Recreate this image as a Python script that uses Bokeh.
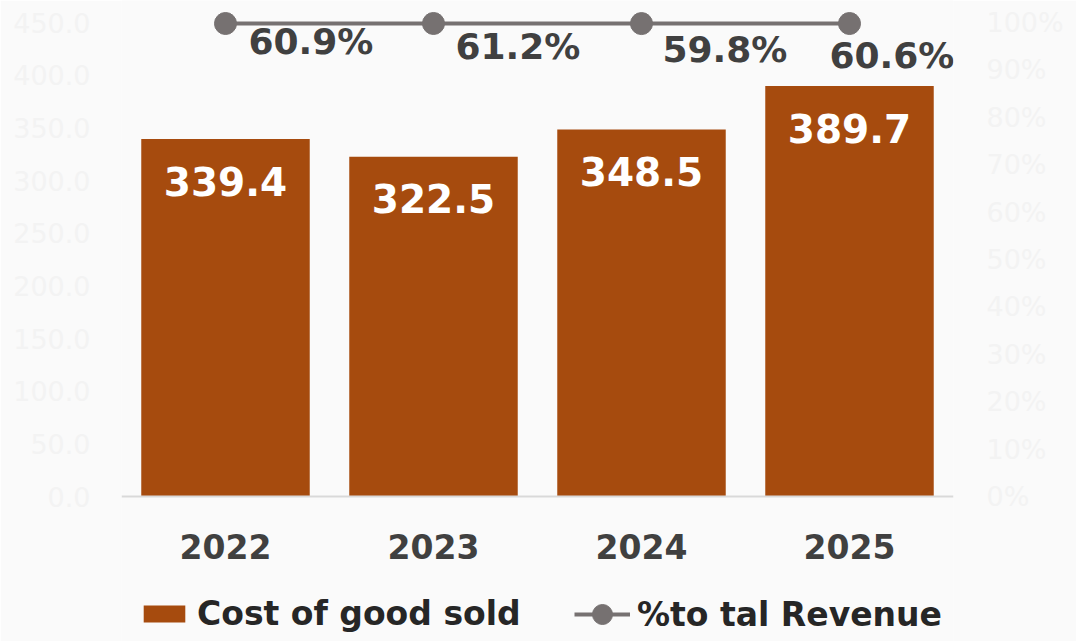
from bokeh.plotting import figure
from bokeh.models import (ColumnDataSource, Range1d, LinearAxis, FixedTicker,
                          NumeralTickFormatter, LabelSet, Legend, LegendItem, FactorRange)
from bokeh.core.properties import value
from bokeh.embed import file_html
from bokeh.resources import INLINE

# ---- data ----
years = ["2022", "2023", "2024", "2025"]
cogs = [339.4, 322.5, 348.5, 389.7]
pct_revenue = [60.9, 61.2, 59.8, 60.6]
cogs_labels = [f"{v:.1f}" for v in cogs]
pct_labels = [f"{v:.1f}%" for v in pct_revenue]
left_ticks = [0, 50, 100, 150, 200, 250, 300, 350, 400, 450]
right_ticks = [0.0, 0.1, 0.2, 0.3, 0.4, 0.5, 0.6, 0.7, 0.8, 0.9, 1.0]

# label placement (screen px), styling only
pct_dx = [23, 22, 21, -20]
pct_dy = [-18, -23, -26, -32]

BAR = "#A64B0E"
LINE = "#767171"
DARK = "#404040"
BG = "#FAFAFA"
FAINT = "#F3F3F3"
FONT = "DejaVu Sans"

src = ColumnDataSource(dict(year=years, cogs=cogs, pct=pct_revenue,
                            cogs_label=cogs_labels, pct_label=pct_labels,
                            dx=pct_dx, dy=pct_dy))

p = figure(width=1076, height=641, x_range=FactorRange(factors=years),
           y_range=Range1d(-137.66, 470.9), output_backend="svg", toolbar_location=None,
           min_border_left=121, min_border_right=123, min_border_top=0, min_border_bottom=0,
           background_fill_color=BG, border_fill_color=BG, outline_line_color=None)

p.extra_y_ranges = {"pct": Range1d(-0.3059, 1.0464), "line": Range1d(-10000, 435.4)}

p.xgrid.visible = False
p.ygrid.visible = False

# left axis
ya = p.yaxis[0]
ya.ticker = FixedTicker(ticks=left_ticks)
ya.formatter = NumeralTickFormatter(format="0.0")
ya.major_label_text_font = FONT
ya.major_label_text_font_size = "27px"
ya.major_label_text_color = FAINT
ya.axis_line_color = None
ya.major_tick_line_color = None
ya.minor_tick_line_color = None
ya.major_tick_out = 0
ya.major_tick_in = 0
ya.major_label_standoff = 31

# right axis
ra = LinearAxis(y_range_name="pct", ticker=FixedTicker(ticks=right_ticks),
                formatter=NumeralTickFormatter(format="0%"))
ra.major_label_text_font = FONT
ra.major_label_text_font_size = "27px"
ra.major_label_text_color = FAINT
ra.axis_line_color = None
ra.major_tick_line_color = None
ra.minor_tick_line_color = None
ra.major_tick_out = 0
ra.major_tick_in = 0
ra.major_label_standoff = 33
p.add_layout(ra, "right")

# x axis, pinned to value 0
xa = p.xaxis[0]
xa.fixed_location = 0
xa.major_label_text_font = FONT
xa.major_label_text_font_size = "33px"
xa.major_label_text_font_style = "bold"
xa.major_label_text_color = DARK
xa.axis_line_color = "#D9D9D9"
xa.axis_line_width = 2
xa.major_tick_line_color = None
xa.minor_tick_line_color = None
xa.major_tick_out = 0
xa.major_tick_in = 0
xa.major_label_standoff = 37

bars = p.vbar(x="year", top="cogs", bottom=0, width=0.81, source=src,
              fill_color=BAR, line_color=None)

ln = p.line(x="year", y="pct", source=src, y_range_name="line",
            line_color=LINE, line_width=4)
pts = p.scatter(x="year", y="pct", source=src, y_range_name="line",
                size=22, fill_color=LINE, line_color=LINE)

bar_lbl = LabelSet(x="year", y="cogs", text="cogs_label", source=src,
                   text_align="center", text_baseline="middle", y_offset=-42,
                   text_color="white", text_font=value(FONT),
                   text_font_size="39px", text_font_style="bold")
p.add_layout(bar_lbl)

pct_lbl = LabelSet(x="year", y="pct", text="pct_label", source=src, y_range_name="line",
                   x_offset="dx", y_offset="dy",
                   text_align="left", text_baseline="middle",
                   text_color=DARK, text_font=value(FONT),
                   text_font_size="36px", text_font_style="bold")
p.add_layout(pct_lbl)

common = dict(padding=0, margin=0, border_line_color=None, background_fill_alpha=0,
              label_text_font=FONT, label_text_font_style="bold",
              label_text_font_size="33px", label_text_color="#262626",
              label_standoff=7)
leg1 = Legend(items=[LegendItem(label="Cost of good sold", renderers=[bars])],
              location=(17, 8), glyph_width=52, glyph_height=21, label_height=21, **common)
leg2 = Legend(items=[LegendItem(label="%to tal Revenue", renderers=[ln, pts])],
              location=(453, 2), glyph_width=56, glyph_height=50, label_height=50, **common)
p.add_layout(leg1)
p.add_layout(leg2)

html = file_html(p, INLINE)
html = html.replace("<body>", '<body style="background-color:#FAFAFA;">', 1)
open("out.html", "w").write(html)
